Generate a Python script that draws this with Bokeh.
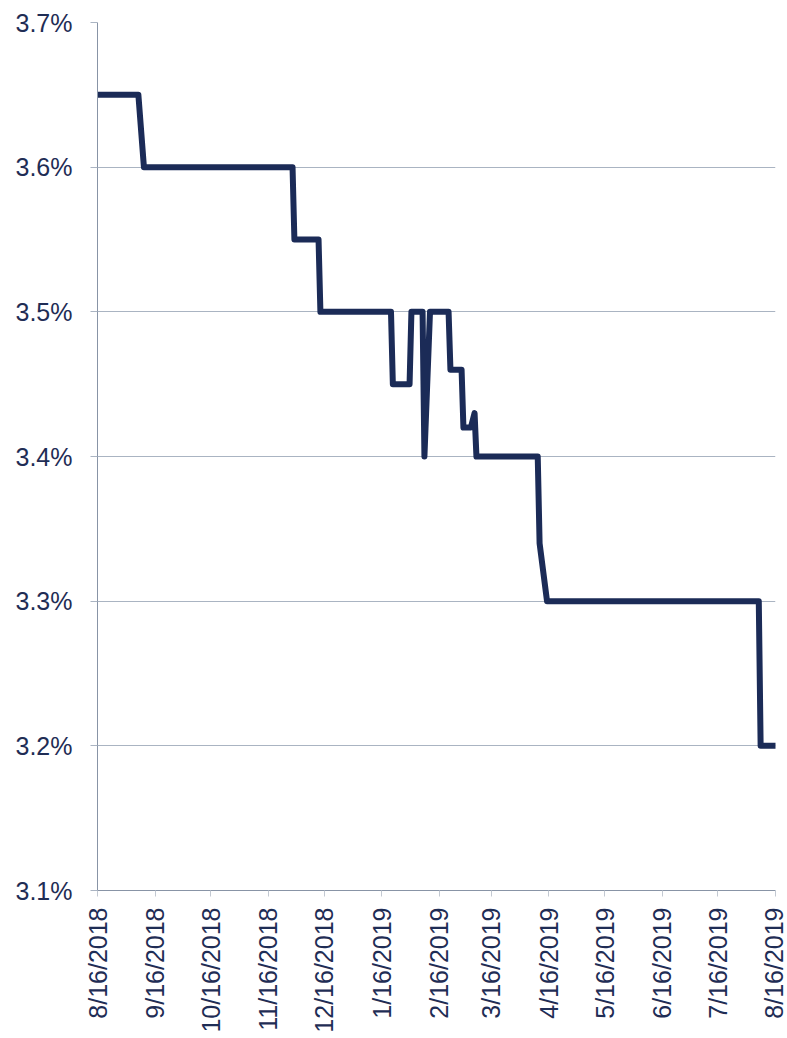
import math
from datetime import datetime
from bokeh.plotting import figure
from bokeh.models import Range1d, FixedTicker, PrintfTickFormatter, CustomJSTickFormatter
from bokeh.embed import file_html
from bokeh.resources import INLINE

# ---- data ----
dates = ["2018-08-16", "2018-09-07", "2018-09-10", "2018-11-29", "2018-11-30",
         "2018-12-13", "2018-12-14", "2019-01-21", "2019-01-22", "2019-01-31",
         "2019-02-01", "2019-02-07", "2019-02-08", "2019-02-11", "2019-02-21",
         "2019-02-22", "2019-02-28", "2019-03-01", "2019-03-05", "2019-03-07",
         "2019-03-08", "2019-04-10", "2019-04-11", "2019-04-15", "2019-08-07",
         "2019-08-08", "2019-08-16"]
values = [3.65, 3.65, 3.60, 3.60, 3.55, 3.55, 3.50, 3.50, 3.45, 3.45,
          3.50, 3.50, 3.40, 3.50, 3.50, 3.46, 3.46, 3.42, 3.42, 3.43,
          3.40, 3.40, 3.34, 3.30, 3.30, 3.20, 3.20]
x_tick_dates = ["2018-08-16", "2018-09-16", "2018-10-16", "2018-11-16", "2018-12-16",
                "2019-01-16", "2019-02-16", "2019-03-16", "2019-04-16", "2019-05-16",
                "2019-06-16", "2019-07-16", "2019-08-16"]
y_ticks = [3.1, 3.2, 3.3, 3.4, 3.5, 3.6, 3.7]

x = [datetime.fromisoformat(d) for d in dates]
tick_dt = [datetime.fromisoformat(d) for d in x_tick_dates]
epoch = datetime(1970, 1, 1)
tick_ms = [(d - epoch).total_seconds() * 1000.0 for d in tick_dt]

NAVY = "#1b2b57"
TEXT = "#1f2d55"
GRID = "#aab4c2"
AXIS = "#8894a6"

p = figure(width=787, height=1038, x_axis_type="datetime",
           output_backend="svg", toolbar_location=None,
           x_range=Range1d(tick_dt[0], tick_dt[-1]),
           y_range=Range1d(y_ticks[0], y_ticks[-1]),
           min_border_left=97, min_border_right=12,
           min_border_top=22, min_border_bottom=148)
p.outline_line_color = None
p.background_fill_color = "white"
p.border_fill_color = "white"

p.line(x, values, line_color=NAVY, line_width=6,
       line_join="round", line_cap="round")

# x axis
xa = p.xaxis[0]
xa.ticker = FixedTicker(ticks=tick_ms)
xa.formatter = CustomJSTickFormatter(code="""
const d = new Date(tick);
return (d.getUTCMonth()+1) + '/' + d.getUTCDate() + '/' + d.getUTCFullYear();
""")
xa.major_label_orientation = math.pi / 2
xa.major_label_text_font = "Liberation Sans"
xa.major_label_text_font_size = "25px"
xa.major_label_text_color = TEXT
xa.major_label_standoff = 11
xa.major_tick_out = 6
xa.major_tick_in = 0
xa.major_tick_line_color = "#c3c9d2"
xa.major_tick_line_width = 1
xa.minor_tick_line_color = None
xa.axis_line_color = AXIS
xa.axis_line_width = 1

# y axis
ya = p.yaxis[0]
ya.ticker = FixedTicker(ticks=y_ticks)
ya.formatter = PrintfTickFormatter(format="%.1f%%")
ya.major_label_text_font = "Liberation Sans"
ya.major_label_text_font_size = "25px"
ya.major_label_text_color = TEXT
ya.major_label_standoff = 18
ya.major_tick_out = 7
ya.major_tick_in = 0
ya.major_tick_line_color = GRID
ya.minor_tick_line_color = None
ya.axis_line_color = AXIS
ya.axis_line_width = 1

p.xgrid.grid_line_color = None
p.ygrid.ticker = FixedTicker(ticks=y_ticks)
p.ygrid.grid_line_color = GRID
p.ygrid.grid_line_width = 1

open("out.html", "w").write(file_html(p, INLINE))
